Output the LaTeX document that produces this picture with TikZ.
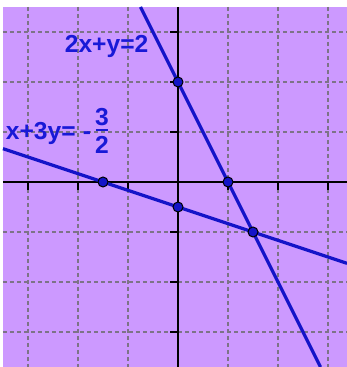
\documentclass[tikz,border=0pt]{standalone}
\usepackage{fontspec}
\setmainfont{Liberation Sans}
\definecolor{bgpurple}{RGB}{204,153,255}
\definecolor{lineblue}{RGB}{20,20,200}
\definecolor{txtblue}{RGB}{25,25,215}
\definecolor{gridgray}{RGB}{125,115,135}
\begin{document}
\begin{tikzpicture}[x=1cm,y=1cm,
  gridline/.style={gridgray,line width=0.03cm,dash pattern=on 0.08cm off 0.06cm},
  axisline/.style={black,line width=0.045cm},
  tickmark/.style={black,line width=0.04cm},
  graphline/.style={lineblue,line width=0.065cm},
  dotpt/.style={circle,fill=lineblue,draw=black,line width=0.02cm,inner sep=0pt,minimum size=0.2cm},
  lbl/.style={txtblue,font=\fontsize{14}{15}\selectfont\bfseries,inner sep=0pt}]
\useasboundingbox (-3.56,-3.70) rectangle (3.38,3.64);
\fill[white] (-3.56,-3.70) rectangle (3.38,3.64);
\fill[bgpurple] (-3.50,-3.70) rectangle (3.38,3.50);
% grid
\foreach \i in {-3,...,3}{
  \ifnum\i=0\else
  \draw[gridline] (\i,3.5) -- (\i,-3.7);
  \draw[gridline] (-3.5,\i) -- (3.38,\i);
  \fi
}
% axes
\coordinate (xl) at (-3.5,0);
\coordinate (xr) at (3.38,0);
\coordinate (yt) at (0,3.5);
\coordinate (yb) at (0,-3.7);
\draw[axisline] (xl) -- (xr);
\draw[axisline] (yt) -- (yb);
\foreach \i in {-3,-2,-1,1,2,3}{
  \draw[tickmark] (\i,0) -- (\i,-0.16);
  \draw[tickmark] (0,\i) -- (-0.16,\i);
}
% lines
\coordinate (aT) at (-0.75,3.5);
\coordinate (aB) at (2.85,-3.7);
\coordinate (bL) at (-3.5,0.6667);
\coordinate (bR) at (3.38,-1.6267);
\draw[graphline] (aT) -- (aB);
\draw[graphline] (bL) -- (bR);
% points
\node[dotpt] (p1) at (0,2) {};
\node[dotpt] (p2) at (1,0) {};
\node[dotpt] (p3) at (-1.5,0) {};
\node[dotpt] (p4) at (0,-0.5) {};
\node[dotpt] (p5) at (1.5,-1) {};
% labels
\node[lbl,anchor=base west] (l1) at (-2.27,2.58) {2x+y=2};
\node[lbl,anchor=base west] (l2) at (-3.45,0.84) {x+3y=};
\node[lbl,anchor=base] (l2m) at (-1.82,0.84) {-};
\node[lbl,anchor=base] (l2f) at (-1.52,0.84) {\makebox[0pt]{\raisebox{8.5pt}{3}}\makebox[0pt]{\raisebox{5.1pt}{\rule{7pt}{1.2pt}}}\makebox[0pt]{\raisebox{-7.4pt}{2}}};
\end{tikzpicture}
\end{document}
